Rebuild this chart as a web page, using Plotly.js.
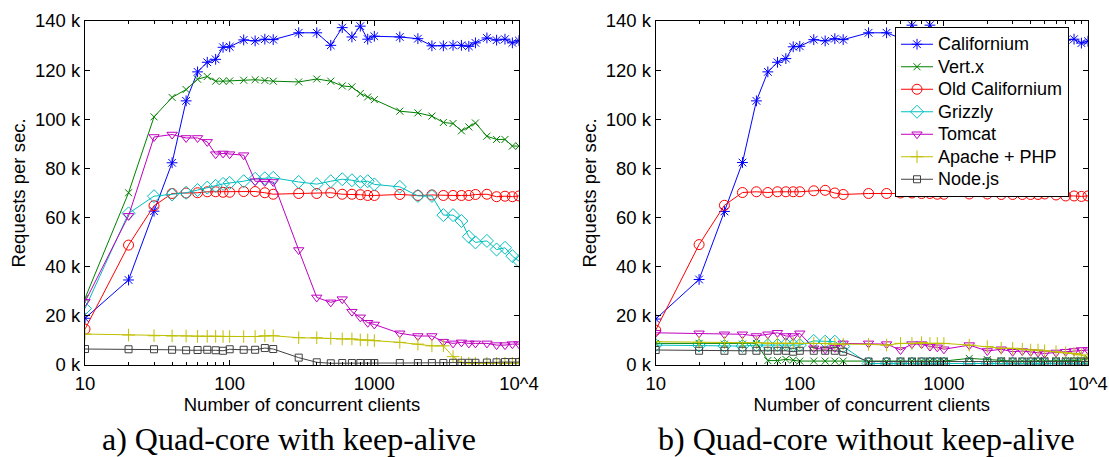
<!DOCTYPE html>
<html>
<head>
<meta charset="utf-8">
<script src="https://cdn.plot.ly/plotly-3.0.1.min.js"></script>
<style>html,body{margin:0;padding:0;background:#fff;}#chart{width:1109px;height:457px;}</style>
</head>
<body>
<div id="chart"></div>
<script>
// Number of concurrent clients (shared x values)
const clients = [10,20,30,40,50,60,70,80,90,100,125,150,175,200,300,400,500,600,700,800,900,1000,1500,2000,2500,3000,3500,4000,4500,5000,6000,7000,8000,9000,10000];

// a) Quad-core with keep-alive (requests per sec., in thousands)
const keepCalifornium = [19,34.6,62.6,82.3,107.5,119.3,123.2,124.4,129.3,129.5,132.3,131.9,132.6,132.4,135.2,135.2,130.1,137.3,133.5,137.9,132.6,133.8,133.5,132.8,129.9,129.9,130.1,130.1,129.7,131.1,133.1,132.2,132.6,131.1,132.0];
const keepVertx = [27.1,70.1,101,108.9,112.1,116.3,117.4,115.5,115.5,115.6,115.9,116.1,115.8,115.5,115.2,116.4,115.5,113.6,113.2,110.5,109.1,108.0,103.3,102.6,101.3,98.7,98.3,95.3,96.9,98.5,93.1,91.8,91.8,89.1,89.1];
const keepOldCalifornium = [14.6,48.8,64.8,69.8,70.0,70.1,70.5,70.5,70.3,70.3,70.6,70.6,70.1,69.5,69.8,69.8,70.1,69.5,69.5,69.3,69.0,69.0,69.4,69.0,69.2,69.0,69.0,69.0,69.0,69.4,69.5,68.5,68.7,68.5,68.8];
const keepGrizzly = [23,61.7,68.7,69.4,70.1,71.2,72.2,72.9,73.7,74.1,74.8,75.8,76.0,76.2,74.5,73.6,74.8,75.6,75.2,74.5,74.8,73.5,72.5,68.8,68.8,61.0,61.0,58.6,52.2,49.9,50.5,47.0,47.7,44.3,42.3];
const keepTomcat = [25.7,60.7,92.8,93.8,92.4,92.4,90.8,85.8,86.1,85.8,85.4,74.8,74.5,74.5,46.8,27.5,25.5,26.8,21.7,19.4,17.2,16.5,12.9,11.8,11.8,9.5,8.8,9.2,8.8,8.8,8.8,8.1,8.1,8.5,8.5];
const keepApache = [12.6,12.2,11.9,11.8,11.8,11.7,11.7,11.7,11.6,11.6,11.6,11.6,11.9,11.9,11.1,11.1,10.8,10.6,10.6,10.2,10.2,9.9,9.2,8.5,7.8,7.8,3.4,1.1,0.7,0.7,0.7,0.7,0.7,0.7,0.7];
const keepNode = [6.5,6.4,6.4,6.2,6.0,6.1,6.2,6.0,5.8,6.4,6.2,6.2,6.9,6.5,3.0,1.1,0.7,0.8,0.8,0.8,0.8,0.8,0.8,0.8,0.8,0.8,0.9,0.9,0.9,0.9,1.0,1.1,1.2,1.2,1.2];

// b) Quad-core without keep-alive (requests per sec., in thousands)
const noCalifornium = [18.7,34.8,62.5,82.4,107.5,119.3,123.2,124.7,129.5,129.7,132.4,131.9,132.8,132.4,135.2,135.2,133.0,138.3,133.5,138.3,133.0,133.8,133.5,132.8,130.0,130.0,130.0,130.0,129.7,131.0,133.0,132.2,132.6,131.0,131.8];
const noVertx = [8.8,8.8,8.5,8.5,8.8,1.8,1.8,2.3,2.0,1.6,1.6,1.6,1.6,1.6,1.4,1.4,1.6,1.6,1.6,1.6,1.6,1.6,2.7,2.2,1.8,1.6,1.6,1.6,1.6,1.8,1.8,1.8,1.8,2.0,2.7];
const noOldCalifornium = [14.2,49,65,70.2,70.5,70.2,70.5,70.5,70.5,70.5,70.9,71.1,70.0,69.4,69.8,69.8,70.0,70.0,69.8,69.8,69.5,69.5,69.6,69.6,69.4,69.4,69.4,69.4,69.4,69.6,69.2,68.8,68.8,68.6,68.8];
const noGrizzly = [8.1,7.9,7.7,7.7,8.1,8.1,8.1,8.4,8.1,8.1,9.8,9.5,9.5,7.5,0.6,0.6,0.6,0.6,0.6,0.6,0.6,0.6,0.6,0.6,0.6,0.6,0.6,0.6,0.6,0.6,0.6,0.6,0.6,0.6,0.6];
const noTomcat = [13.1,12.9,12.5,12.5,11.8,12.5,13.1,11.8,11.8,12.9,6.8,6.4,7.0,8.8,8.8,8.5,6.1,8.5,8.5,7.5,7.2,6.4,8.1,5.7,6.4,5.4,5.7,5.4,5.1,4.7,5.1,5.4,5.7,6.1,6.1];
const noApache = [9.5,9.2,9.1,9.1,9.1,8.8,8.8,8.8,8.8,8.8,8.8,8.8,8.5,8.5,8.4,8.1,8.8,8.8,9.1,8.8,8.8,8.8,8.1,7.5,6.8,6.8,6.4,6.1,6.1,5.8,5.4,5.0,4.7,4.1,2.7];
const noNode = [6.1,5.8,5.8,5.8,5.8,5.8,5.8,5.8,5.4,5.8,5.8,5.8,5.8,5.4,1.4,1.4,1.4,1.4,1.4,1.4,1.4,1.4,1.4,1.4,1.4,1.4,1.4,1.4,1.4,1.4,1.4,1.4,1.4,1.4,1.4];

// Tick labels
const xTickVals = [10,100,1000,10000];
const xTickText = ['10','100','1000','10^4'];
const xMinorVals = [20,30,40,50,60,70,80,90,200,300,400,500,600,700,800,900,2000,3000,4000,5000,6000,7000,8000,9000];
const yTickVals = [0,20,40,60,80,100,120,140];
const yTickText = ['0 k','20 k','40 k','60 k','80 k','100 k','120 k','140 k'];

const seriesNames = ['Californium','Vert.x','Old Californium','Grizzly','Tomcat','Apache + PHP','Node.js'];
const colors = ['#0000ff','#008000','#ff0000','#00bfbf','#bf00bf','#bfbf00','#404040'];
const symbols = ['asterisk-open','x-thin-open','circle-open','diamond-open','triangle-down-open','cross-thin-open','square-open'];
const sizes = [9,7,10,10,9,9,7];

const keepData = [keepCalifornium,keepVertx,keepOldCalifornium,keepGrizzly,keepTomcat,keepApache,keepNode];
const noData = [noCalifornium,noVertx,noOldCalifornium,noGrizzly,noTomcat,noApache,noNode];

const sans = 'Arial, "Liberation Sans", sans-serif';
const serif = '"Times New Roman", "Liberation Serif", serif';
const traces = [];
function add(data, xa, ya, showLegend) {
  data.forEach((ys, i) => {
    traces.push({
      x: clients, y: ys, xaxis: xa, yaxis: ya, type: 'scatter', mode: 'lines+markers',
      name: '<span style="font-size:18px">' + seriesNames[i] + '</span>', showlegend: showLegend,
      line: {color: colors[i], width: 1},
      marker: {symbol: symbols[i], size: sizes[i], color: colors[i], line: {color: colors[i], width: 1}}
    });
  });
}
add(keepData, 'x', 'y', false);
add(noData, 'x2', 'y2', true);

const W = 1109, H = 457;
function xAxis(l, r, anchor) {
  return {
    domain: [l / W, r / W], anchor: anchor, type: 'log', range: [1, 4],
    tickmode: 'array', tickvals: xTickVals, ticktext: xTickText,
    ticks: 'inside', ticklen: 5, tickcolor: '#000', tickwidth: 1,
    showline: true, linecolor: '#000', linewidth: 1, mirror: 'allticks',
    showgrid: false, zeroline: false, ticklabelstandoff: 2,
    tickfont: {family: sans, size: 18.5, color: '#000'},
    minor: {tickmode: 'array', tickvals: xMinorVals, ticks: 'inside', ticklen: 3, tickcolor: '#000', tickwidth: 1, showgrid: false},
    title: {text: 'Number of concurrent clients', font: {family: sans, size: 18.5, color: '#000'}, standoff: 1}
  };
}
function yAxis(anchor) {
  return {
    domain: [(H - 365) / H, (H - 21) / H], anchor: anchor, range: [0, 140],
    tickmode: 'array', tickvals: yTickVals, ticktext: yTickText,
    ticks: 'inside', ticklen: 5, tickcolor: '#000', tickwidth: 1,
    showline: true, linecolor: '#000', linewidth: 1, mirror: 'allticks',
    showgrid: false, zeroline: false,
    tickfont: {family: sans, size: 18.5, color: '#000'},
    title: {text: 'Requests per sec.', font: {family: sans, size: 18.5, color: '#000'}, standoff: 4}
  };
}

const layout = {
  width: W, height: H, margin: {l: 0, r: 0, t: 0, b: 0},
  paper_bgcolor: '#fff', plot_bgcolor: '#fff',
  font: {family: sans, color: '#000'},
  xaxis: xAxis(85, 519, 'y'), yaxis: yAxis('x'),
  xaxis2: xAxis(655.7, 1088, 'y2'), yaxis2: yAxis('x2'),
  showlegend: true,
  legend: {x: 895 / W, y: (H - 27) / H, xanchor: 'left', yanchor: 'top',
    bordercolor: '#000', borderwidth: 1, bgcolor: '#fff',
    font: {family: sans, size: 15, color: '#000'}, tracegroupgap: 0, itemwidth: 32},
  annotations: [
    {text: 'a) Quad-core with keep-alive', xref: 'paper', yref: 'paper', x: 289 / W, y: (H - 439) / H,
     xanchor: 'center', yanchor: 'middle', showarrow: false, font: {family: serif, size: 32, color: '#000'}},
    {text: 'b) Quad-core without keep-alive', xref: 'paper', yref: 'paper', x: 866 / W, y: (H - 439) / H,
     xanchor: 'center', yanchor: 'middle', showarrow: false, font: {family: serif, size: 32, color: '#000'}}
  ]
};

Plotly.newPlot('chart', traces, layout, {displayModeBar: false, staticPlot: true});
</script>
</body>
</html>
